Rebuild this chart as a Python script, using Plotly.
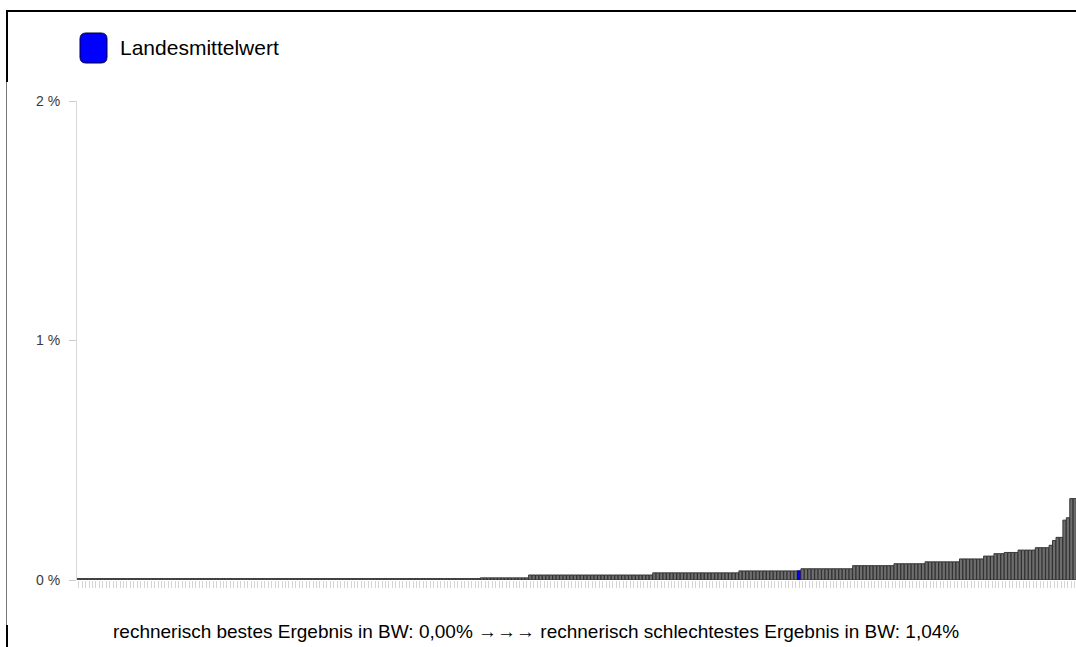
import plotly.graph_objects as go

# ---- data (values in %) ----
run_values = [0.006, 0.009, 0.021, 0.030, 0.038, 0.039, 0.047, 0.060, 0.068, 0.076,
              0.088, 0.100, 0.110, 0.115, 0.125, 0.135, 0.145, 0.165, 0.178, 0.250,
              0.260, 0.340, 1.040]
run_counts = [117, 14, 36, 25, 17, 1, 15, 12, 9, 10,
              7, 3, 3, 4, 5, 4, 1, 1, 2, 1,
              1, 2, 1]
mean_index = 209  # Landesmittelwert bar
legend_label = "Landesmittelwert"
y_tickvals = [0, 1, 2]
y_ticktext = ["0 %", "1 %", "2 %"]
footer_text = "rechnerisch bestes Ergebnis in BW: 0,00% \u2192\u2192\u2192 rechnerisch schlechtestes Ergebnis in BW: 1,04%"

values = []
for v, c in zip(run_values, run_counts):
    values.extend([v] * c)
cats = list(range(len(values)))

W, H = 1076, 647
L, R, T, B = 77, 0, 101, 67
pw, ph = W - L - R, H - T - B

def px(x):
    return (x - L) / pw

def py(y):
    return (H - B - y) / ph

fill = ["#0000ff" if i == mean_index else "#6e6e6e" for i in cats]
outline = ["#0000a0" if i == mean_index else "#2a2a2a" for i in cats]

fig = go.Figure()
fig.add_trace(go.Bar(
    x=cats, y=values,
    marker=dict(color=fill, line=dict(color=outline, width=0.9)),
    showlegend=False, hoverinfo="skip",
))

fig.update_layout(
    width=W, height=H,
    margin=dict(l=L, r=R, t=T, b=B),
    paper_bgcolor="white", plot_bgcolor="white",
    bargap=0.08,
    font=dict(family="Liberation Sans, Arial, sans-serif", size=13, color="#444"),
    xaxis=dict(range=[-0.5, 289.35], showgrid=False, zeroline=False,
               showline=False, ticks="outside", ticklen=7, tickwidth=1,
               tickcolor="#d4d4d4", tickvals=cats, showticklabels=False,
               fixedrange=True),
    yaxis=dict(range=[0, 2], showgrid=False, zeroline=False,
               showline=True, linecolor="#d8d8d8", linewidth=1,
               ticks="outside", ticklen=7, tickcolor="#cccccc",
               tickvals=y_tickvals, ticktext=y_ticktext,
               tickfont=dict(size=14, color="#3a3a3a"),
               ticklabelstandoff=6, fixedrange=True),
)

# frame lines
shapes = [
    dict(type="line", xref="paper", yref="paper", x0=px(6), x1=px(1080), y0=py(11), y1=py(11),
         line=dict(color="black", width=2)),
    dict(type="line", xref="paper", yref="paper", x0=px(7), x1=px(7), y0=py(10), y1=py(82),
         line=dict(color="black", width=2)),
    dict(type="line", xref="paper", yref="paper", x0=px(6.5), x1=px(6.5), y0=py(82), y1=py(625),
         line=dict(color="#777777", width=1)),
    dict(type="line", xref="paper", yref="paper", x0=px(7), x1=px(7), y0=py(625), y1=py(648),
         line=dict(color="black", width=2)),
]

# legend rounded box
x0, x1, y0, y1, r = 80, 107, 33, 63, 6
pts = (f"M {px(x0 + r)},{py(y0)} L {px(x1 - r)},{py(y0)} Q {px(x1)},{py(y0)} {px(x1)},{py(y0 + r)} "
       f"L {px(x1)},{py(y1 - r)} Q {px(x1)},{py(y1)} {px(x1 - r)},{py(y1)} "
       f"L {px(x0 + r)},{py(y1)} Q {px(x0)},{py(y1)} {px(x0)},{py(y1 - r)} "
       f"L {px(x0)},{py(y0 + r)} Q {px(x0)},{py(y0)} {px(x0 + r)},{py(y0)} Z")
shapes.append(dict(type="path", xref="paper", yref="paper", path=pts,
                   fillcolor="#0000ff", line=dict(color="#000033", width=1)))
fig.update_layout(shapes=shapes)

fig.add_annotation(x=px(118), y=py(47), xref="paper", yref="paper", text=legend_label,
                   showarrow=False, xanchor="left", yanchor="middle",
                   font=dict(family="Liberation Sans, Arial, sans-serif", size=21, color="black"))
fig.add_annotation(x=px(536), y=py(631), xref="paper", yref="paper", text=footer_text,
                   showarrow=False, xanchor="center", yanchor="middle",
                   font=dict(family="Liberation Sans, Arial, sans-serif", size=19, color="black"))

fig.write_html("out.html", config={"displayModeBar": False},
               post_script="document.body.style.margin='0';document.body.style.overflow='hidden';")
